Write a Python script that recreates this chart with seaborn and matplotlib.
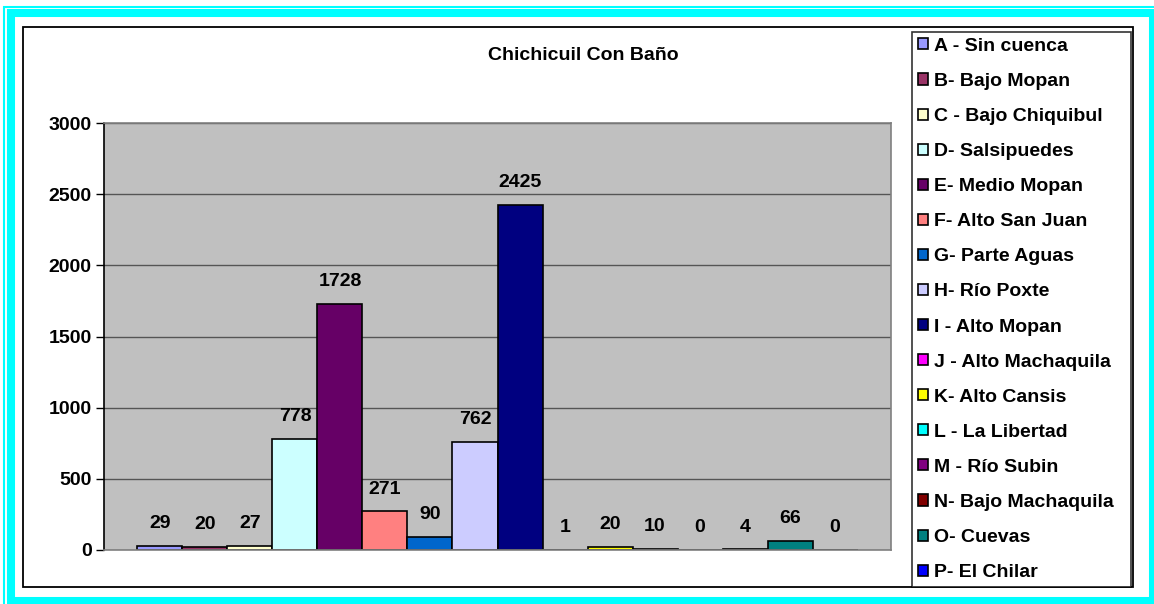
import matplotlib
matplotlib.use('Agg')
import matplotlib.pyplot as plt
from matplotlib.patches import Rectangle
import seaborn as sns
import pandas as pd

# datos
cuencas = ['A - Sin cuenca', 'B- Bajo Mopan', 'C - Bajo Chiquibul', 'D- Salsipuedes',
           'E- Medio Mopan', 'F- Alto San Juan', 'G- Parte Aguas', 'H- Río Poxte',
           'I - Alto Mopan', 'J - Alto Machaquila', 'K- Alto Cansis', 'L - La Libertad',
           'M - Río Subin', 'N- Bajo Machaquila', 'O- Cuevas', 'P- El Chilar']
valores = [29, 20, 27, 778, 1728, 271, 90, 762, 2425, 1, 20, 10, 0, 4, 66, 0]
colores = ['#9999FF', '#993366', '#FFFFCC', '#CCFFFF', '#660066', '#FF8080', '#0066CC', '#CCCCFF',
           '#000080', '#FF00FF', '#FFFF00', '#00FFFF', '#800080', '#800000', '#008080', '#0000FF']
yticks = [0, 500, 1000, 1500, 2000, 2500, 3000]
titulo = 'Chichicuil Con Baño'

df = pd.DataFrame({'grupo': [''] * len(cuencas), 'cuenca': cuencas, 'valor': valores})

sns.set_style('white')
plt.rcParams['font.family'] = ['Liberation Sans', 'DejaVu Sans']
plt.rcParams['font.weight'] = 'bold'
plt.rcParams['text.color'] = 'black'
plt.rcParams['ytick.color'] = 'black'
plt.rcParams['ytick.labelcolor'] = 'black'

W, H = 1154, 604
fig = plt.figure(figsize=(W / 100, H / 100), dpi=100)

# marcos exteriores
def px_rect(x0, y0, x1, y1, **kw):
    r = Rectangle((x0 / W, 1 - y1 / H), (x1 - x0) / W, (y1 - y0) / H,
                  transform=fig.transFigure, fill=False, **kw)
    fig.add_artist(r)

px_rect(4, 6.5, 1160, 610, edgecolor='#00FFFF', linewidth=1.5)
px_rect(11, 13, 1153, 601, edgecolor='#00FFFF', linewidth=5.8)
px_rect(23, 26.5, 1133, 587, edgecolor='black', linewidth=1.3)

ax = fig.add_axes([104 / W, 1 - 550 / H, 787 / W, 427 / H])
ax.set_facecolor('#C0C0C0')

sns.barplot(data=df, x='grupo', y='valor', hue='cuenca', hue_order=cuencas,
            palette=colores, width=0.915, saturation=1, edgecolor='black',
            linewidth=1.2, ax=ax)

for c in ax.containers:
    ax.bar_label(c, fmt='%d', padding=10, fontsize=14, fontweight='bold', color='black')

ax.set_ylim(0, 3000)
ax.set_xlim(-0.5, 0.5)
ax.set_yticks(yticks)
ax.set_xticks([])
ax.set_xlabel('')
ax.set_ylabel('')
ax.tick_params(axis='y', left=True, length=6, width=1, color='black', labelsize=14,
               labelcolor='black', pad=3)
for t in ax.get_yticklabels():
    t.set_fontweight('bold')
ax.yaxis.grid(True, color='#555555', linewidth=1)
ax.set_axisbelow(True)
for s in ['top', 'right', 'bottom']:
    ax.spines[s].set_color('#808080')
    ax.spines[s].set_linewidth(1.2)
ax.spines['left'].set_color('black')
ax.spines['left'].set_linewidth(1.2)

handles, labels = ax.get_legend_handles_labels()
ax.get_legend().remove()
leg = fig.legend(handles, labels, loc='upper left',
                 bbox_to_anchor=(912 / W, 1 - 32 / H, 219 / W, 0), mode='expand',
                 fontsize=14, frameon=True, fancybox=False, edgecolor='black',
                 handlelength=0.5, handleheight=0.5, handletextpad=0.35,
                 labelspacing=0.93, borderpad=0.3, borderaxespad=0)
leg.get_frame().set_linewidth(1.2)
for t in leg.get_texts():
    t.set_fontweight('bold')
    t.set_color('black')

fig.text(583 / W, 1 - 56 / H, titulo, ha='center', va='center', fontsize=14,
         fontweight='bold', color='black')

fig.savefig('out.png', dpi=100)
